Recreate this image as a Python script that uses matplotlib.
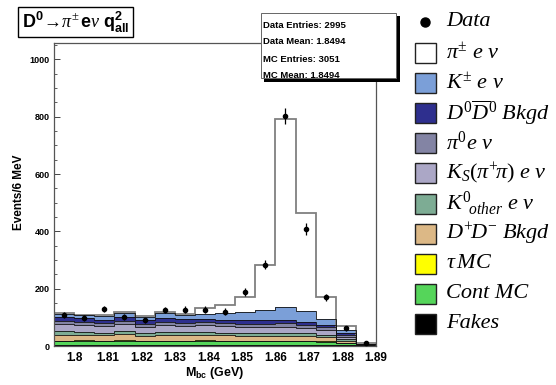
import numpy as np
import matplotlib
matplotlib.use('Agg')
import matplotlib.pyplot as plt
from matplotlib.patches import Rectangle
from matplotlib.lines import Line2D

plt.rcParams['mathtext.fontset'] = 'custom'
plt.rcParams['mathtext.rm'] = 'Liberation Serif'
plt.rcParams['mathtext.it'] = 'Liberation Serif:italic'
plt.rcParams['mathtext.bf'] = 'Liberation Sans:bold'

# bins de 6 MeV en M_bc
edges = np.round(np.arange(1.794, 1.8901, 0.006), 3)

# datos (eventos por bin) y errores
data = [107, 97, 129, 100, 89, 125, 127, 127, 120, 189, 284, 803, 408, 170, 62, 10]
data_err = [10, 10, 11, 10, 9, 11, 11, 11, 11, 14, 17, 28, 20, 13, 8, 3]

# componentes MC, de abajo hacia arriba
fakes = [2, 2, 2, 2, 2, 2, 2, 2, 2, 2, 2, 3, 3, 3, 3, 5]
cont_mc = [15, 16, 15, 17, 14, 15, 15, 16, 15, 14, 14, 13, 13, 12, 8, 2]
tau_mc = [2, 2, 2, 2, 2, 2, 2, 2, 2, 2, 2, 2, 2, 2, 1, 0]
dpdm = [20, 19, 18, 20, 17, 19, 18, 18, 18, 17, 17, 17, 16, 14, 6, 1]
k0_other = [12, 11, 10, 12, 10, 11, 11, 11, 10, 10, 10, 11, 10, 9, 5, 0]
ks_enu = [25, 24, 23, 25, 22, 24, 23, 23, 22, 21, 22, 22, 20, 17, 8, 0]
pi0_enu = [10, 10, 9, 10, 9, 10, 10, 10, 10, 10, 10, 11, 10, 9, 6, 0]
d0d0 = [14, 14, 13, 14, 13, 14, 13, 13, 13, 13, 13, 12, 10, 8, 8, 0]
kpm_enu = [12, 10, 13, 14, 12, 17, 14, 18, 23, 29, 37, 45, 39, 20, 10, 0]
pipm_enu = [2, 1, 3, 4, 4, 6, 4, 20, 27, 54, 157, 657, 342, 78, 15, 1]

xtick_vals = [1.80, 1.81, 1.82, 1.83, 1.84, 1.85, 1.86, 1.87, 1.88, 1.89]
xtick_labels = ['1.8', '1.81', '1.82', '1.83', '1.84', '1.85', '1.86', '1.87', '1.88', '1.89']
ytick_vals = [0, 200, 400, 600, 800, 1000]

stats_lines = ['Data Entries: 2995', 'Data Mean: 1.8494',
               'MC Entries: 3051', 'MC Mean: 1.8494']

components = [
    ('Fakes', fakes, '#000000'),
    ('Cont MC', cont_mc, '#55d55a'),
    (r'$\tau\,MC$', tau_mc, '#ffff00'),
    (r'$D^{+}\!D^{-}\ Bkgd$', dpdm, '#dcb886'),
    (r'$K^{0}_{\ \ other}\ e\ \nu$', k0_other, '#7dac94'),
    (r'$K_S(\pi^{+}\!\pi)\ e\ \nu$', ks_enu, '#aba7c6'),
    (r'$\pi^{0}e\ \nu$', pi0_enu, '#8384a4'),
    (r'$D^{0}\overline{D}^{0}\ Bkgd$', d0d0, '#2e2f8e'),
    (r'$K^{\pm}\ e\ \nu$', kpm_enu, '#7b9fd8'),
    (r'$\pi^{\pm}\ e\ \nu$', pipm_enu, '#ffffff'),
]

W, H = 556, 385
fig = plt.figure(figsize=(W / 100, H / 100), dpi=100)


def fx(x):
    return x / W


def fy(y):
    return 1 - y / H


ax = fig.add_axes([fx(54), fy(346), fx(376) - fx(54), fy(43) - fy(346)])

# stack acumulado, se dibuja de arriba hacia abajo
cum = np.cumsum([np.array(c[1]) for c in components], axis=0)
for i in range(len(components) - 1, -1, -1):
    name, vals, col = components[i]
    ax.stairs(cum[i], edges, fill=True, color=col, zorder=2)
    ec = '#808080' if i == len(components) - 1 else '#111111'
    lw = 1.3 if i == len(components) - 1 else 0.6
    ax.stairs(cum[i], edges, color=ec, lw=lw, zorder=2.5)

centers = (edges[:-1] + edges[1:]) / 2
ax.errorbar(centers, data, yerr=data_err, fmt='o', color='black', ms=3,
            elinewidth=0.9, capsize=0, zorder=5)

ax.set_xlim(1.794, 1.89)
ax.set_ylim(0, 1057)
ax.set_xticks(xtick_vals)
ax.set_xticklabels(xtick_labels, fontsize=8.5, fontweight='bold', family='Liberation Sans')
ax.set_yticks(ytick_vals)
ax.set_yticklabels([str(v) for v in ytick_vals], fontsize=6.5, fontweight='bold',
                   family='Liberation Sans')
ax.set_yticks(np.arange(0, 1057, 50), minor=True)
ax.tick_params(direction='in', length=4, width=0.7, color='#444444', pad=3)
ax.tick_params(which='minor', direction='in', length=2, width=0.6, color='#444444')
ax.tick_params(axis='x', pad=4)
for s in ax.spines.values():
    s.set_color('#555555')
    s.set_linewidth(0.9)

ax.set_xlabel(r'$\mathbf{M_{bc}}$' + ' (GeV)', fontsize=9, fontweight='bold',
              family='Liberation Sans', labelpad=1)
fig.text(fx(19), fy(192), 'Events/6 MeV', rotation=90, ha='center', va='center',
         fontsize=8.5, fontweight='bold', family='Liberation Sans')

# caja del titulo
fig.patches.append(Rectangle((fx(18), fy(37)), fx(133) - fx(18), fy(7) - fy(37),
                             transform=fig.transFigure, facecolor='white',
                             edgecolor='black', lw=1.0))
fig.text(fx(76), fy(22), r'$\mathbf{D^0}\!\rightarrow\!\pi^{\pm}\,\mathbf{e}\nu\ \mathbf{q^2_{all}}$',
         ha='center', va='center', fontsize=13)

# caja de estadisticas con sombra
fig.patches.append(Rectangle((fx(264), fy(82)), fx(400) - fx(264), fy(16) - fy(82),
                             transform=fig.transFigure, facecolor='black', lw=0, zorder=3))
fig.patches.append(Rectangle((fx(261), fy(78)), fx(396) - fx(261), fy(13) - fy(78),
                             transform=fig.transFigure, facecolor='white',
                             edgecolor='#666666', lw=0.7, zorder=3.1))
for i, line in enumerate(stats_lines):
    fig.text(fx(263), fy(25 + 17 * i), line, ha='left', va='center', fontsize=6.8,
             fontweight='bold', family='Liberation Sans', zorder=4)

# leyenda manual a la derecha
fig.lines.append(Line2D([fx(425)], [fy(22)], marker='o', ms=6.5, color='black',
                        transform=fig.transFigure))
fig.text(fx(446), fy(22), 'Data', ha='left', va='center', fontsize=16,
         family='Liberation Serif', style='italic')
for k, (name, vals, col) in enumerate(components[::-1]):
    yc = 53 + 30.1 * k
    fig.patches.append(Rectangle((fx(415), fy(yc + 10)), fx(436) - fx(415),
                                 fy(yc - 10) - fy(yc + 10), transform=fig.transFigure,
                                 facecolor=col, edgecolor='#222222', lw=1.0))
    fig.text(fx(446), fy(yc), name, ha='left', va='center', fontsize=16,
             family='Liberation Serif', style='italic')

plt.savefig('out.png', dpi=100)
